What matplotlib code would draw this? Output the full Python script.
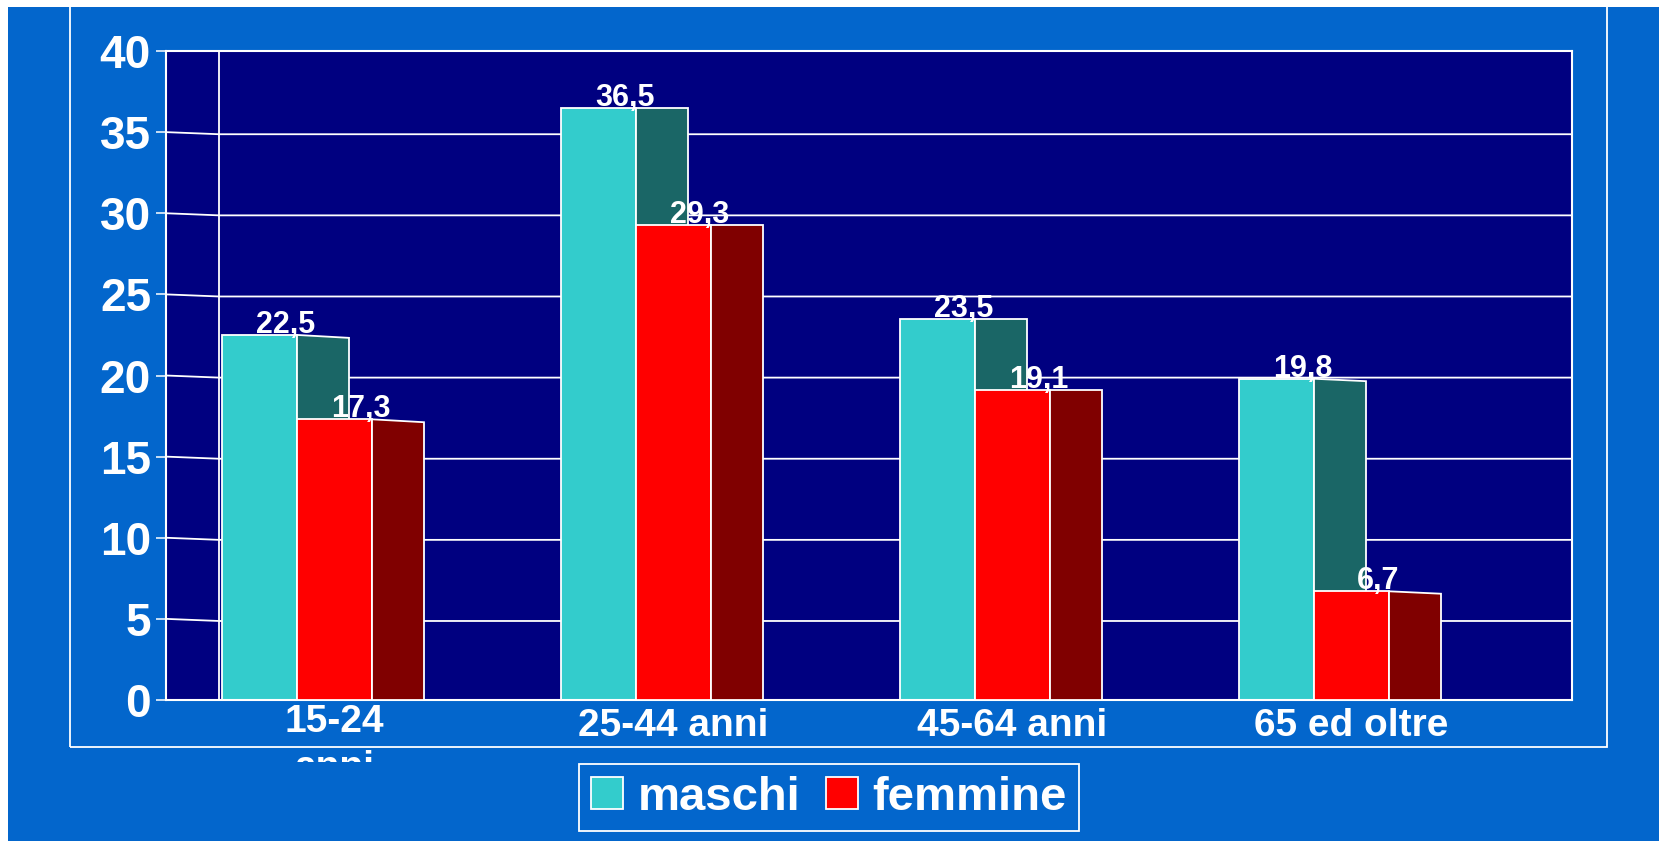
import matplotlib
matplotlib.use('Agg')
import matplotlib.pyplot as plt
from matplotlib.patches import Rectangle, Polygon
from matplotlib.transforms import offset_copy
import numpy as np

# dati
categorie = ['15-24\nanni', '25-44 anni', '45-64 anni', '65 ed oltre']
maschi = [22.5, 36.5, 23.5, 19.8]
femmine = [17.3, 29.3, 19.1, 6.7]
serie = ['maschi', 'femmine']
yticks = [0, 5, 10, 15, 20, 25, 30, 35, 40]

W, H = 1659, 841
BLU = '#0366CC'
NAVY = '#000080'
col_fronte = ['#33CCCC', '#FF0000']
col_lato = ['#1A6666', '#800000']
# leggera prospettiva del lato (abbassamento in unita' y) per gruppo
inclinazione = [0.18, 0.0, 0.0, 0.15]

plt.rcParams['font.family'] = ['Liberation Sans', 'DejaVu Sans']
plt.rcParams['font.weight'] = 'bold'

fig = plt.figure(figsize=(W / 100, H / 100), dpi=100, facecolor=BLU)
fig.add_artist(Rectangle((0, 1 - 7 / H), 1, 7 / H, transform=fig.transFigure, color='white', lw=0))
fig.add_artist(Rectangle((0, 0), 8 / W, 1, transform=fig.transFigure, color='white', lw=0))
fig.add_artist(Rectangle((70 / W, 1 - 747 / H), (1607 - 70) / W, 760 / H, transform=fig.transFigure,
                         fill=False, ec='white', lw=1.3))

ax = fig.add_axes([166 / W, 1 - 700 / H, (1572 - 166) / W, (700 - 51) / H])
ax.set_facecolor(NAVY)
passo = 339.0
x0 = -(297 - 166) / passo
x1 = (1572 - 297) / passo
ax.set_xlim(x0, x1)
ax.set_ylim(0, 40)
bw = 75 / passo
prof = 52 / passo
parete = -78 / passo
abbass = 0.13

# griglia e parete di fondo
for v in yticks[1:-1]:
    ax.plot([x0, parete, x1], [v, v - abbass, v - abbass], color='white', lw=1.3, zorder=1)
ax.plot([parete, parete], [0, 40], color='white', lw=1.3, zorder=1)

x = np.arange(len(categorie))
for i, vals in enumerate([maschi, femmine]):
    sx = x - bw + i * bw
    ax.bar(sx, vals, width=bw, align='edge', color=col_fronte[i], edgecolor='white', lw=1.3, zorder=2 + 2 * i)
    for k, v in enumerate(vals):
        r = sx[k] + bw
        ax.add_patch(Polygon([(r, 0), (r, v), (r + prof, v - inclinazione[k]), (r + prof, 0)],
                             closed=True, fc=col_lato[i], ec='white', lw=1.3, zorder=3 + 2 * i))
        ax.annotate(f'{v:.1f}'.replace('.', ','), xy=(r - 11 / passo, v), xytext=(0, 2),
                    textcoords='offset pixels', ha='center', va='baseline', fontsize=22,
                    color='white', fontweight='bold', zorder=10)

ax.set_yticks(yticks)
ax.set_xticks([])
ax.tick_params(axis='y', length=7.2, width=1.1, color='white', pad=3.6, labelsize=33, labelcolor='white')
for s in ax.spines.values():
    s.set_color('white')
    s.set_linewidth(1.5)

# etichette categorie (la seconda riga di "15-24 anni" e' tagliata come nell'originale)
clip = Rectangle((0, 1 - 762 / H), 1, 762 / H, transform=fig.transFigure)
for k, lab in enumerate(categorie):
    dy = -4 if '\n' in lab else -8
    trans = offset_copy(ax.get_xaxis_transform(), fig=fig, y=dy, units='dots')
    t = fig.text(x[k] + bw / 2, 0, lab, transform=trans, ha='center', va='top', fontsize=28,
                 color='white', linespacing=1.35)
    t.set_clip_path(clip)

handles = [Rectangle((0, 0), 1, 1, fc=c, ec='white', lw=1.3) for c in col_fronte]
leg = fig.legend(handles, serie, loc='center', bbox_to_anchor=(829 / W, 1 - 797.5 / H), ncol=2,
                 fontsize=34, facecolor=BLU, edgecolor='white', fancybox=False, framealpha=1,
                 handlelength=0.68, handleheight=0.68, handletextpad=0.3, columnspacing=0.55,
                 borderpad=0.25, labelcolor='white')
leg.get_frame().set_linewidth(1.3)

fig.savefig('out.png', dpi=100, facecolor=BLU)
